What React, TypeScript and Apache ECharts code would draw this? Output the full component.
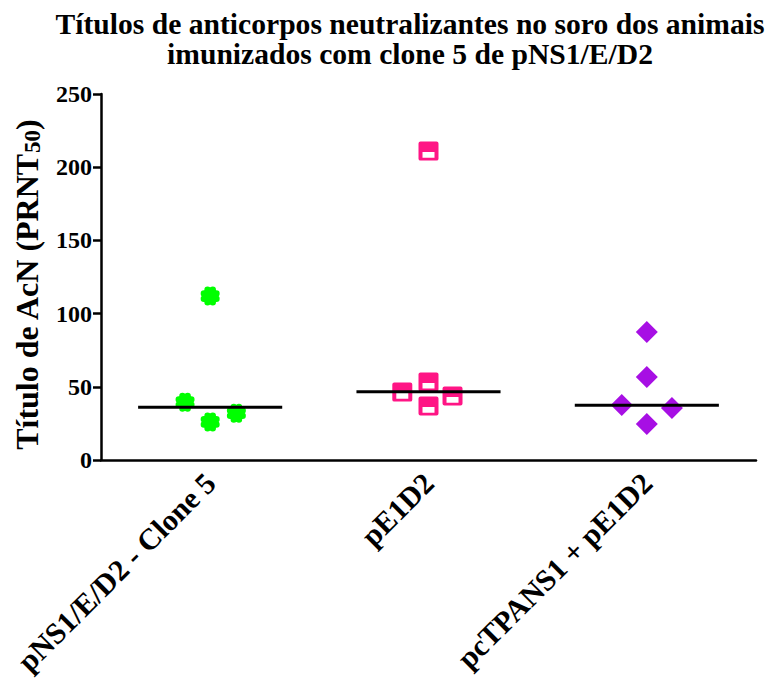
import React, { useEffect, useRef } from "react";
import * as echarts from "echarts";

const categories = ["pNS1/E/D2 - Clone 5", "pE1D2", "pcTPANS1 + pE1D2"];
const yTicks = [0, 50, 100, 150, 200, 250];

// [x offset within group, value]
const group1 = [[0, 112], [-0.115, 39.5], [0, 26], [0.12, 32]];
const group2 = [[0, 211], [-0.12, 46.4], [0, 53.3], [0, 36.9], [0.11, 43.7]];
const group3 = [[0, 87.4], [0, 56.7], [-0.115, 37.6], [0.115, 35.5], [0, 24.6]];
const medians = [36, 46.6, 37.4];
const medianHalfWidth = 0.33;

const colors = ["#00FF00", "#FF1585", "#A70FE4"];

function flowerPath(): string {
  const parts: string[] = [];
  const c = 10;
  const circ = (cx: number, cy: number, r: number) =>
    `M${(cx + r).toFixed(2)},${cy.toFixed(2)} A${r},${r} 0 1 1 ${(cx - r).toFixed(2)},${cy.toFixed(2)} A${r},${r} 0 1 1 ${(cx + r).toFixed(2)},${cy.toFixed(2)} Z`;
  parts.push(circ(c, c, 5.6));
  for (let i = 0; i < 8; i++) {
    const a = (i * Math.PI) / 4 + Math.PI / 8;
    parts.push(circ(c + 6.6 * Math.cos(a), c + 6.6 * Math.sin(a), 3.1));
  }
  return "path://" + parts.join(" ");
}

const squareSymbol =
  "path://M2,0 H18 Q20,0 20,2 V18 Q20,20 18,20 H2 Q0,20 0,18 V2 Q0,0 2,0 Z M4,11 V17 H16 V11 Z";

export default function App() {
  const ref = useRef<HTMLDivElement>(null);
  useEffect(() => {
    if (!ref.current) return;
    const chart = echarts.init(ref.current, null, { renderer: "svg" });
    const font = "Liberation Serif";
    const groups = [group1, group2, group3];
    const symbols = [flowerPath(), squareSymbol, "diamond"];
    const sizes = [[19, 19], [20, 19], [22, 22]];
    const series: any[] = [];
    groups.forEach((g, i) => {
      series.push({
        type: "scatter",
        xAxisIndex: 1,
        yAxisIndex: 0,
        data: g.map(([dx, v]) => [i + dx, v]),
        symbol: symbols[i],
        symbolSize: sizes[i],
        itemStyle: { color: colors[i], opacity: 1 },
        z: 3,
      });
    });
    medians.forEach((m, i) => {
      series.push({
        type: "line",
        xAxisIndex: 1,
        yAxisIndex: 0,
        data: [
          [i - medianHalfWidth, m],
          [i + medianHalfWidth, m],
        ],
        symbol: "none",
        lineStyle: { color: "#000", width: 3 },
        z: 4,
      });
    });
    chart.setOption({
      animation: false,
      title: {
        text: "Títulos de anticorpos neutralizantes no soro dos animais\nimunizados com clone 5 de pNS1/E/D2",
        left: 405,
        top: 4,
        textAlign: "center",
        textStyle: {
          fontFamily: font,
          fontWeight: "bold",
          fontSize: 29.6,
          lineHeight: 30,
          color: "#000",
          align: "center",
        },
      },
      grid: { left: 101, right: 14, top: 94, bottom: 219, containLabel: false },
      xAxis: [
        {
          type: "category",
          data: categories,
          boundaryGap: true,
          axisLine: { onZero: false, lineStyle: { color: "#000", width: 2.5 } },
          axisTick: { alignWithLabel: true, length: 8, lineStyle: { color: "#000", width: 2.5 } },
          axisLabel: {
            rotate: 45,
            margin: 18,
            color: "#000",
            fontFamily: font,
            fontWeight: "bold",
            fontSize: 30,
            interval: 0,
          },
          splitLine: { show: false },
        },
        {
          type: "value",
          min: -0.5,
          max: 2.5,
          show: false,
          axisLine: { onZero: false },
          splitLine: { show: false },
        },
      ],
      yAxis: {
        type: "value",
        min: 0,
        max: 250,
        interval: 50,
        name: "Título de AcN (PRNT{sub|50})",
        nameLocation: "middle",
        nameGap: 57,
        nameRotate: 90,
        nameTextStyle: {
          fontFamily: font,
          fontWeight: "bold",
          fontSize: 32,
          color: "#000",
          padding: [0, 16, 0, 0],
          rich: {
            sub: {
              fontFamily: font,
              fontWeight: "bold",
              fontSize: 23,
              color: "#000",
              verticalAlign: "bottom",
              padding: [12, 0, 0, 0],
            },
          },
        },
        axisLine: { show: true, onZero: false, lineStyle: { color: "#000", width: 2.5 } },
        axisTick: { show: true, length: 8, lineStyle: { color: "#000", width: 2.5 } },
        axisLabel: {
          color: "#000",
          fontFamily: font,
          fontWeight: "bold",
          fontSize: 24,
          margin: 9,
          formatter: (v: number) => (yTicks.includes(v) ? String(v) : ""),
        },
        splitLine: { show: false },
      },
      series,
    });
    return () => chart.dispose();
  }, []);
  return (
    <div
      ref={ref}
      style={{ position: "fixed", left: 0, top: 0, width: 770, height: 679, background: "#fff" }}
    />
  );
}
